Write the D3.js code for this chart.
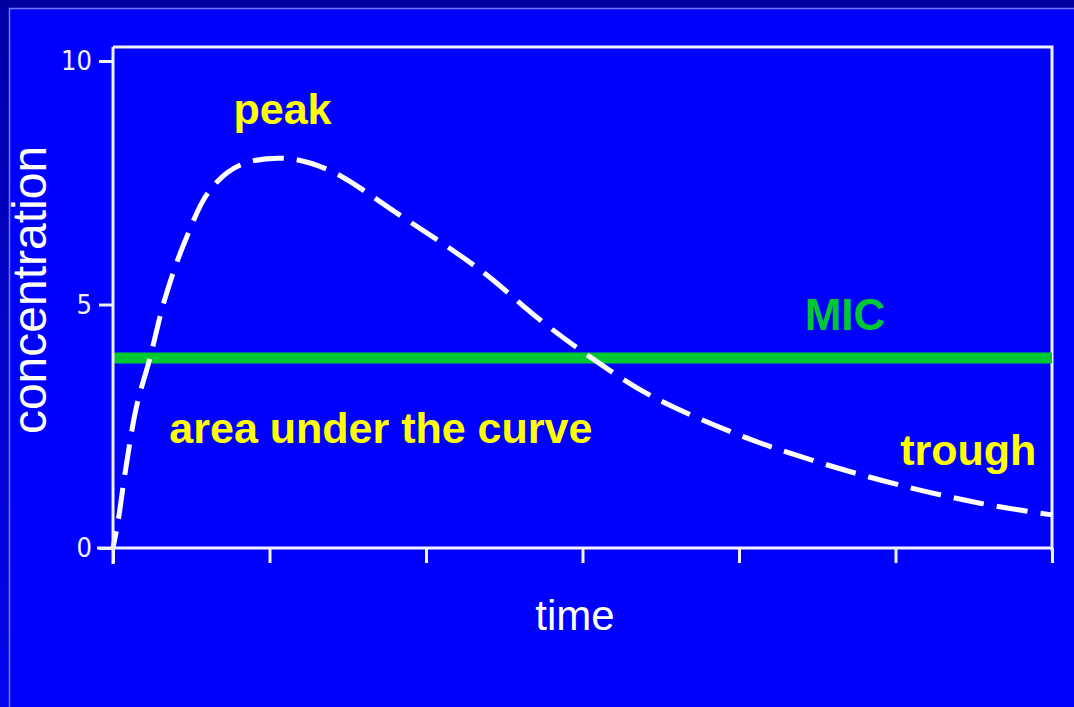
<!DOCTYPE html>
<html>
<head>
<meta charset="utf-8">
<script src="https://cdn.jsdelivr.net/npm/d3@7"></script>
<style>
  html, body { margin: 0; padding: 0; background: #0000ff; }
  svg { display: block; }
</style>
</head>
<body>
<svg id="chart" width="1074" height="707"></svg>
<script>
// ---- data ----
const timePoints = [0, 0.03, 0.08, 0.15, 0.236, 0.33, 0.46, 0.62, 0.81, 1.1, 1.38, 1.83, 2.35, 2.73, 3.05, 3.43, 4.0, 4.52, 5.03, 5.54, 6.0];
const concentration = [0, 0.5, 1.6, 2.9, 3.9, 5.1, 6.3, 7.35, 7.86, 8.0, 7.76, 6.84, 5.7, 4.68, 3.92, 3.14, 2.32, 1.75, 1.29, 0.92, 0.68];
const micValue = [3.9];
const yTicks = [0, 5, 10];
const xTicks = [0, 1, 2, 3, 4, 5, 6];
const labels = [
  { text: "peak", t: 0.77, c: 8.7, color: "#ffff00", size: 43 },
  { text: "MIC", t: 4.42, c: 4.48, color: "#00c832", size: 44 },
  { text: "area under the curve", t: 0.36, c: 2.15, color: "#ffff00", size: 43 },
  { text: "trough", t: 5.03, c: 1.7, color: "#ffff00", size: 43 }
];

const svg = d3.select("#chart");
const W = 1074, H = 707;

// background frame
const defs = svg.append("defs");
const grad = defs.append("linearGradient").attr("id", "leftg").attr("x1", 0).attr("y1", 0).attr("x2", 0).attr("y2", 1);
grad.append("stop").attr("offset", "0%").attr("stop-color", "#0000a8");
grad.append("stop").attr("offset", "100%").attr("stop-color", "#0505f0");
svg.append("rect").attr("x", 0).attr("y", 0).attr("width", W).attr("height", H).attr("fill", "#0000ff");
svg.append("rect").attr("x", 0).attr("y", 0).attr("width", 9).attr("height", H).attr("fill", "url(#leftg)");
svg.append("rect").attr("x", 0).attr("y", 0).attr("width", W).attr("height", 8).attr("fill", "#00009c");
svg.append("line").attr("x1", 9.5).attr("x2", 9.5).attr("y1", 8).attr("y2", H).attr("stroke", "#7a7aff").attr("stroke-width", 1.5);
svg.append("line").attr("x1", 9).attr("x2", W).attr("y1", 8.5).attr("y2", 8.5).attr("stroke", "#7a7aff").attr("stroke-width", 1.5);

// scales
const x = d3.scaleLinear().domain([0, 6]).range([113, 1052]);
const y = d3.scaleLinear().domain([0, 10]).range([548, 61]);
const yTop = y(10.29);

const axisColor = "#f2f2ff";

// plot box top & right
svg.append("path")
  .attr("d", `M${x(0)},${yTop} H${x(6)} V${y(0) + 3}`)
  .attr("fill", "none").attr("stroke", axisColor).attr("stroke-width", 3);

// MIC line
svg.append("line")
  .attr("x1", x(0)).attr("x2", x(6))
  .attr("y1", y(micValue[0])).attr("y2", y(micValue[0]))
  .attr("stroke", "#00c832").attr("stroke-width", 11);

// curve
const line = d3.line()
  .x((d, i) => x(timePoints[i]))
  .y(d => y(d))
  .curve(d3.curveCatmullRom.alpha(0.5));
svg.append("path")
  .datum(concentration)
  .attr("d", line)
  .attr("fill", "none")
  .attr("stroke", "#ffffff")
  .attr("stroke-width", 5)
  .attr("stroke-dasharray", "31 13")
  .attr("stroke-dashoffset", 14);

// axes
const xAxis = d3.axisBottom(x).tickValues(xTicks).tickSize(15).tickFormat("");
const gx = svg.append("g").attr("transform", `translate(0,${y(0)})`).call(xAxis);
gx.select(".domain").attr("d", `M${x(0) - 16},0 H${x(6)}`).attr("stroke", axisColor).attr("stroke-width", 3);
gx.selectAll(".tick line").attr("stroke", axisColor).attr("stroke-width", 3);

const yAxis = d3.axisLeft(y).tickValues(yTicks).tickSize(14).tickPadding(7);
const gy = svg.append("g").attr("transform", `translate(${x(0)},0)`).call(yAxis);
gy.select(".domain").attr("d", `M0,${yTop} V${y(0) + 16}`).attr("stroke", axisColor).attr("stroke-width", 3);
gy.selectAll(".tick line").attr("stroke", axisColor).attr("stroke-width", 3);
gy.selectAll(".tick text")
  .attr("fill", axisColor)
  .style("font-family", "'Liberation Sans Narrow', 'DejaVu Sans Condensed', 'Liberation Sans', sans-serif")
  .style("font-size", "27px");

// axis titles
svg.append("text")
  .attr("transform", `translate(46,290) rotate(-90)`)
  .attr("text-anchor", "middle")
  .attr("fill", "#ffffff")
  .style("font-family", "'Liberation Sans', Arial, sans-serif")
  .style("font-size", "48px")
  .text("concentration");

svg.append("text")
  .attr("x", 575).attr("y", 630)
  .attr("text-anchor", "middle")
  .attr("fill", "#ffffff")
  .style("font-family", "'Liberation Sans', Arial, sans-serif")
  .style("font-size", "42px")
  .text("time");

// annotations
svg.selectAll("text.lab").data(labels).enter().append("text")
  .attr("class", "lab")
  .attr("x", d => x(d.t))
  .attr("y", d => y(d.c))
  .attr("fill", d => d.color)
  .style("font-family", "'Liberation Sans', Arial, sans-serif")
  .style("font-weight", "bold")
  .style("font-size", d => d.size + "px")
  .text(d => d.text);
</script>
</body>
</html>
